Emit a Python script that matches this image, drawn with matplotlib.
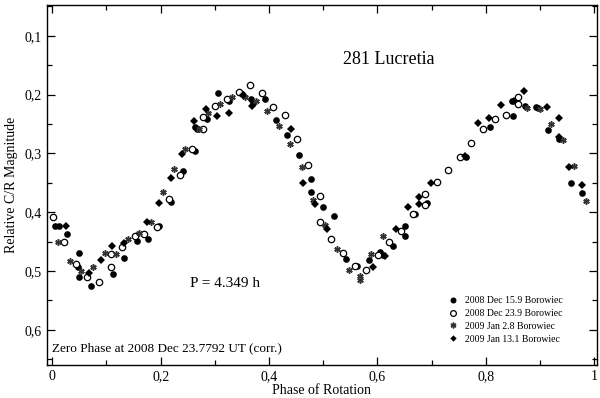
"""281 Lucretia lightcurve, phased at P = 4.349 h (four nights, Borowiec)."""
import matplotlib
matplotlib.use("Agg")
import matplotlib.pyplot as plt  # noqa: E402
from matplotlib.ticker import FuncFormatter, MultipleLocator  # noqa: E402

plt.rcParams["font.family"] = ["Liberation Serif", "DejaVu Serif"]

# --- data (phase, relative magnitude) ---
dec15_phase = [0.006, 0.012, 0.027, 0.049, 0.047, 0.049, 0.071, 0.113, 0.133, 0.156,
               0.176, 0.197, 0.220, 0.241, 0.263, 0.264, 0.267, 0.285, 0.306, 0.327,
               0.350, 0.366, 0.371, 0.392, 0.413, 0.434, 0.456, 0.477, 0.477, 0.500,
               0.520, 0.542, 0.563, 0.585, 0.605, 0.611, 0.628, 0.650, 0.650, 0.670,
               0.692, 0.763, 0.807, 0.850, 0.848, 0.872, 0.893, 0.896, 0.915, 0.935,
               0.957, 0.978]
dec15_mag = [0.423, 0.423, 0.437, 0.470, 0.494, 0.510, 0.526, 0.506, 0.478, 0.449,
             0.445, 0.424, 0.382, 0.330, 0.296, 0.256, 0.259, 0.241, 0.198, 0.211,
             0.199, 0.208, 0.214, 0.207, 0.244, 0.268, 0.303, 0.343, 0.366, 0.392,
             0.406, 0.480, 0.491, 0.481, 0.467, 0.473, 0.457, 0.424, 0.441, 0.404,
             0.385, 0.306, 0.255, 0.236, 0.211, 0.220, 0.221, 0.223, 0.261, 0.275,
             0.350, 0.367]

dec23_phase = [0.001, 0.022, 0.044, 0.065, 0.087, 0.108, 0.108, 0.129, 0.152, 0.170,
               0.194, 0.216, 0.236, 0.258, 0.278, 0.279, 0.301, 0.322, 0.344, 0.364,
               0.387, 0.408, 0.430, 0.451, 0.472, 0.494, 0.494, 0.515, 0.536, 0.558,
               0.579, 0.601, 0.622, 0.643, 0.665, 0.687, 0.687, 0.709, 0.730, 0.752,
               0.773, 0.795, 0.816, 0.837, 0.859, 0.859]
dec23_mag = [0.408, 0.450, 0.489, 0.510, 0.519, 0.472, 0.493, 0.460, 0.441, 0.437,
             0.426, 0.377, 0.337, 0.293, 0.259, 0.238, 0.219, 0.207, 0.196, 0.184,
             0.197, 0.221, 0.235, 0.276, 0.320, 0.372, 0.417, 0.445, 0.470, 0.491,
             0.498, 0.473, 0.450, 0.432, 0.403, 0.369, 0.388, 0.349, 0.328, 0.306,
             0.283, 0.259, 0.241, 0.234, 0.204, 0.216]

jan02_phase = [0.011, 0.032, 0.053, 0.076, 0.097, 0.118, 0.139, 0.161, 0.182, 0.204,
               0.225, 0.245, 0.270, 0.288, 0.310, 0.331, 0.355, 0.376, 0.396, 0.418,
               0.439, 0.461, 0.482, 0.504, 0.525, 0.548, 0.568, 0.568, 0.589, 0.611,
               0.876, 0.899, 0.920, 0.942, 0.962, 0.985]
jan02_mag = [0.450, 0.483, 0.500, 0.493, 0.470, 0.472, 0.445, 0.436, 0.416, 0.366,
             0.326, 0.292, 0.259, 0.231, 0.216, 0.205, 0.204, 0.211, 0.228, 0.254,
             0.284, 0.323, 0.380, 0.422, 0.462, 0.498, 0.508, 0.515, 0.471, 0.441,
             0.223, 0.224, 0.250, 0.278, 0.322, 0.381]

jan13_phase = [0.026, 0.068, 0.090, 0.111, 0.133, 0.175, 0.197, 0.219, 0.239, 0.261,
               0.284, 0.304, 0.327, 0.352, 0.368, 0.441, 0.463, 0.484, 0.506, 0.591,
               0.613, 0.635, 0.656, 0.677, 0.677, 0.699, 0.762, 0.785, 0.805, 0.828,
               0.852, 0.870, 0.913, 0.935, 0.934, 0.954, 0.978]
jan13_mag = [0.424, 0.503, 0.481, 0.457, 0.453, 0.416, 0.385, 0.342, 0.302, 0.245,
             0.224, 0.236, 0.231, 0.200, 0.219, 0.258, 0.351, 0.387, 0.429, 0.493,
             0.474, 0.429, 0.392, 0.375, 0.386, 0.351, 0.304, 0.249, 0.240, 0.218,
             0.211, 0.194, 0.222, 0.240, 0.272, 0.323, 0.354]

labels = ["2008 Dec 15.9 Borowiec", "2008 Dec 23.9 Borowiec",
          "2009 Jan 2.8 Borowiec", "2009 Jan 13.1 Borowiec"]

fig = plt.figure(figsize=(6.0, 3.98), dpi=100)
ax = fig.add_axes([0.078, 0.083, 0.917, 0.904])

ax.plot(dec15_phase, dec15_mag, "o", color="k", ms=4.8, mew=0, label=labels[0])
ax.plot(dec23_phase, dec23_mag, "o", mfc="white", mec="k", ms=4.6, mew=0.9, label=labels[1])
ax.plot(jan02_phase, jan02_mag, ls="none", marker=(6, 2, 0), color="0.2", ms=4.6, mew=1.1,
        label=labels[2])
ax.plot(jan13_phase, jan13_mag, "D", color="k", ms=3.6, mew=0, label=labels[3])

ax.set_xlim(-0.01, 1.005)
ax.set_ylim(0.66, 0.048)        # magnitude axis: bright at the top

ax.xaxis.set_major_locator(MultipleLocator(0.2))
ax.xaxis.set_minor_locator(MultipleLocator(0.1))
ax.yaxis.set_major_locator(MultipleLocator(0.1))
ax.yaxis.set_minor_locator(MultipleLocator(0.05))
comma = FuncFormatter(lambda v, p: ("%g" % round(v, 2)).replace(".", ","))
ax.xaxis.set_major_formatter(comma)
ax.yaxis.set_major_formatter(comma)
ax.tick_params(which="both", direction="in", top=True, right=True, labelsize=10, width=0.9)
ax.tick_params(which="major", length=6)
ax.tick_params(which="minor", length=3.5)
for s in ax.spines.values():
    s.set_linewidth(1.0)

ax.set_xlabel("Phase of Rotation", fontsize=10, labelpad=1)
ax.set_ylabel("Relative C/R Magnitude", fontsize=10, labelpad=5)

ax.text(0.62, 0.14, "281 Lucretia", fontsize=13, ha="center", va="center")
ax.text(0.255, 0.522, "P = 4.349 h", fontsize=11, ha="left", va="center")
ax.text(0.0, 0.632, "Zero Phase at 2008 Dec 23.7792 UT (corr.)", fontsize=9.5,
        ha="left", va="center")

ax.legend(loc="upper left", bbox_to_anchor=(0.72, 0.205), frameon=False, fontsize=7,
          handlelength=1.0, handletextpad=0.8, labelspacing=0.4, borderpad=0,
          markerscale=0.9)

fig.savefig("out.png", dpi=100)
